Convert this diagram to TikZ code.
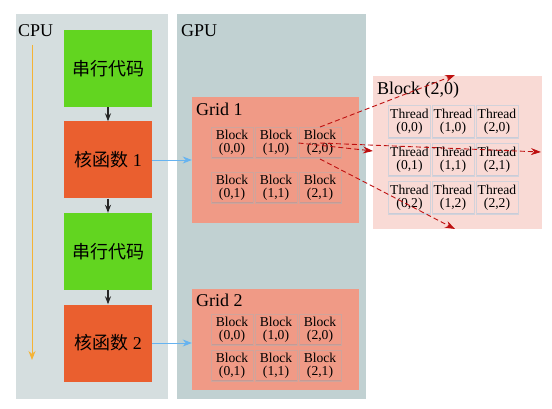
\documentclass[tikz,border=0pt]{standalone}
\usepackage{fontspec}
\setmainfont{Liberation Serif}
\newfontfamily\cjk{Noto Sans CJK SC}
\usetikzlibrary{arrows.meta}

\definecolor{cpubg}{HTML}{D5DEDF}
\definecolor{gpubg}{HTML}{C1D1D2}
\definecolor{serial}{HTML}{62D520}
\definecolor{kernel}{HTML}{EA5F2F}
\definecolor{gridbg}{HTML}{F09A86}
\definecolor{blockbg}{HTML}{F9DAD5}
\definecolor{blkline}{HTML}{CFA49B}
\definecolor{blkshade}{HTML}{C39B96}
\definecolor{thrline}{HTML}{D2D2DA}
\definecolor{thrshade}{HTML}{C9CCD8}
\definecolor{timeln}{HTML}{F5B335}
\definecolor{launch}{HTML}{66B3F0}
\definecolor{expand}{HTML}{BE1010}

\tikzset{
  codebox/.style={minimum width=88pt, minimum height=77pt, inner sep=0pt,
    font=\fontsize{18}{20}\selectfont},
  area/.style={inner sep=0pt},
  blk/.style={draw=blkline, line width=1pt, fill=gridbg, minimum width=42pt,
    minimum height=31pt, inner sep=0pt, align=center,
    font=\fontsize{13.6}{13}\selectfont,
    path picture={\draw[blkshade, line width=3pt]
      (path picture bounding box.south west) -- (path picture bounding box.south east);}},
  thr/.style={blk, draw=thrline, fill=blockbg, minimum height=33pt,
    path picture={\draw[thrshade, line width=3pt]
      (path picture bounding box.south west) -- (path picture bounding box.south east);}},
  title/.style={anchor=west, inner sep=0pt, font=\fontsize{18}{20}\selectfont},
  flow/.style={-{Stealth[length=8pt,width=6pt]}, line width=1.1pt, black!85},
  call/.style={-{Stealth[length=9pt,width=7pt]}, line width=0.9pt, launch},
  zoomin/.style={-{Stealth[length=10pt,width=7pt]}, line width=0.9pt, expand,
    dash pattern=on 5pt off 3pt}
}

\begin{document}
\begin{tikzpicture}[x=1pt,y=-1pt]
  \useasboundingbox[fill=white] (0,0) rectangle (552,409);
  % host and device areas
  \fill[cpubg] (16,14) rectangle (168,399);
  \fill[gpubg] (177,14) rectangle (366,399);
  \node[title] (cpu) at (18,31) {CPU};
  \node[title] (gpu) at (181,31) {GPU};
  \coordinate (TStart) at (32,45);
  \coordinate (TEnd)   at (32,360);
  \draw[-{Stealth[length=9pt,width=7pt]}, line width=1pt, timeln] (TStart) -- (TEnd);% time axis

  % host code
  \node[codebox, fill=serial] (s1) at (108,68.5)  {\cjk 串行代码};
  \node[codebox, fill=kernel] (k1) at (108,160)   {{\cjk 核函数} 1};
  \node[codebox, fill=serial] (s2) at (108,251.5) {\cjk 串行代码};
  \node[codebox, fill=kernel] (k2) at (108,343)   {{\cjk 核函数} 2};
  \draw[flow] (s1) -- (k1);
  \draw[flow] (k1) -- (s2);
  \draw[flow] (s2) -- (k2);

  % grids
  \node[area, fill=gridbg, minimum width=167pt, minimum height=126pt] (grid1) at (275.5,160) {};
  \node[area, fill=gridbg, minimum width=167pt, minimum height=101pt] (grid2) at (275.5,339.5) {};
  \node[title] (g1lab) at (196,109) {Grid 1};
  \node[title] (g2lab) at (196,300) {Grid 2};
  \foreach \g/\ya/\yb in {1/143/188, 2/330/366}{% two rows of blocks
    \foreach \i/\x in {0/232,1/276,2/320}{%
      \node[blk] (g\g b\i0) at (\x,\ya) {Block\\(\i,0)};
      \node[blk] (g\g b\i1) at (\x,\yb) {Block\\(\i,1)};
    }}
  \draw[call] (k1.east) -- (grid1.west);
  \draw[call] (k2.east) -- (k2.east -| grid2.west);

  % one block opened up
  \node[area, fill=blockbg, minimum width=169pt, minimum height=153pt] (blk20) at (457.5,152.5) {};
  \node[title] (b20lab) at (377,90) {Block (2,0)};
  \foreach \i/\x in {0/409.5,1/453,2/497}{%
    \foreach \j/\y in {0/122,1/160,2/198}{%
      \node[thr] (t\i\j) at (\x,\y) {Thread\\(\i,\j)};
    }}
  \coordinate (ZTop)   at (455,75);
  \coordinate (ZLeft)  at (373,151);
  \coordinate (ZRight) at (541,152);
  \coordinate (ZBot)   at (455,229);
  \draw[zoomin] (g1b20.north) -- (ZTop);
  \draw[zoomin] (g1b20.west) -- (ZLeft);
  \draw[zoomin] (g1b20.center) -- (ZRight);
  \draw[zoomin] (g1b20.south) -- (ZBot);
\end{tikzpicture}
\end{document}
